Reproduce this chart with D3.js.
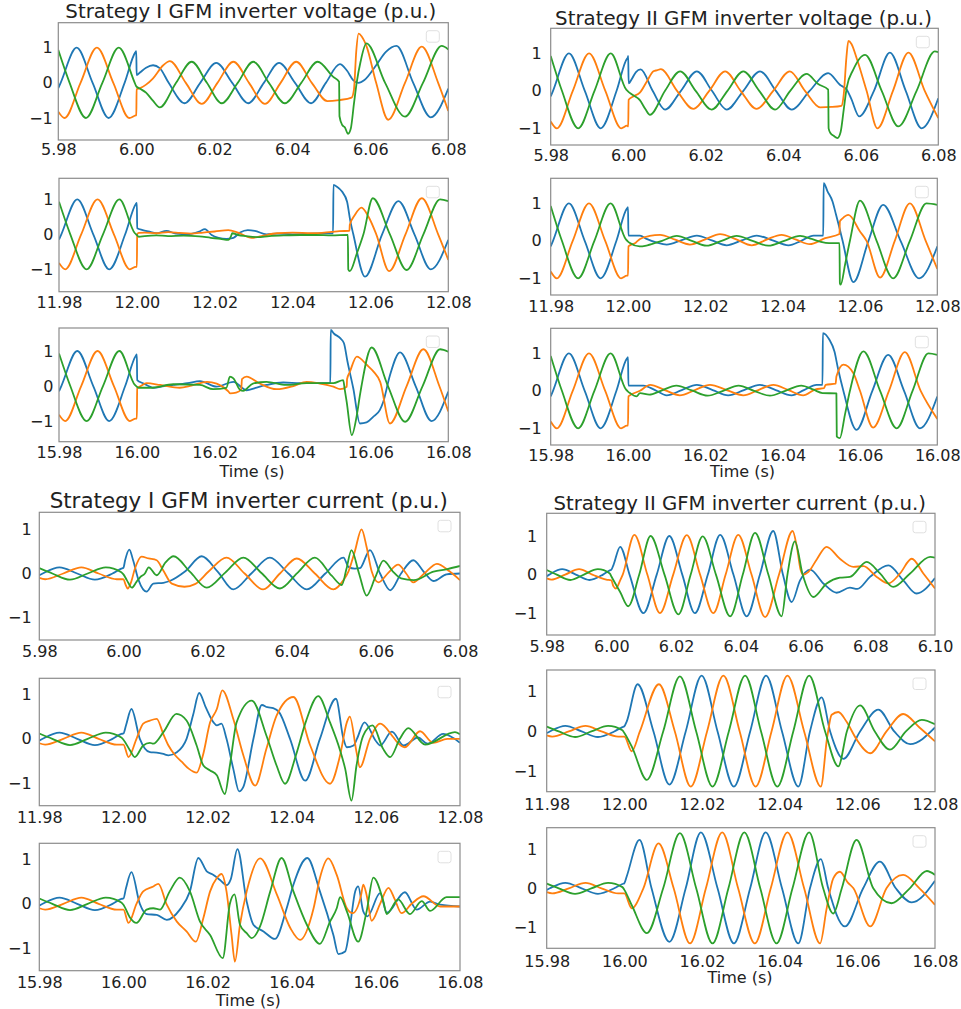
<!DOCTYPE html>
<html><head><meta charset="utf-8">
<script src="https://cdn.jsdelivr.net/npm/d3@7"></script>
<style>body{margin:0;background:#fff}svg text{font-family:"DejaVu Sans",sans-serif}</style>
</head><body><svg id="c" width="961" height="1009"></svg>
<script>
// ---------- tick labels ----------
const tickMs = [-20,0,20,40,60,80];
const tickMsLong = [-20,0,20,40,60,80,100];
const labels6 = ["5.98","6.00","6.02","6.04","6.06","6.08"];
const labels6long = ["5.98","6.00","6.02","6.04","6.06","6.08","6.10"];
const labels12 = ["11.98","12.00","12.02","12.04","12.06","12.08"];
const labels16 = ["15.98","16.00","16.02","16.04","16.06","16.08"];
const yTicks = [-1,0,1];
const titles = ["Strategy I GFM inverter voltage (p.u.)","Strategy II GFM inverter voltage (p.u.)",
                "Strategy I GFM inverter current (p.u.)","Strategy II GFM inverter current (p.u.)"];
const xLabel = "Time (s)";
// time in ms relative to the event (6.00 / 12.00 / 16.00 s), values in p.u.

// ---------- pre-event voltage (shared) ----------
const preV_blue = [[-20,-0.15],[-19.4,0],[-15.3,1.0],[-11.2,0],[-7.1,-1.0],[-3.0,0],[-0.3,0.86]];
const preV_orange = [[-20,-0.82],[-18.4,-1.0],[-14.3,0],[-10.1,1.0],[-5.9,0],[-1.8,-1.0],[-0.3,-0.93]];
const preV_green = [[-20,0.93],[-17.1,0],[-12.9,-1.0],[-8.7,0],[-4.5,1.0],[-0.5,0.03]];
// ---------- pre-event current (shared) ----------
const preI_blue = [[-20,-0.04],[-19.2,0],[-15.2,0.14],[-11,0],[-6.8,-0.14],[-2.6,0],[-0.5,0.11]];
const preI_orange = [[-20,-0.1],[-18.6,-0.13],[-14.3,0],[-10,0.14],[-5.9,0],[-1.6,-0.13]];
const preI_green = [[-20,0.12],[-16.9,0],[-12.7,-0.14],[-8.5,0],[-4.2,0.14],[-0.5,0.03]];

// ---------- Strategy I voltage, 6.00 ----------
const A_blue = [[0,0.9],[0.08,0.22],[1,0.3],[2.5,0.43],[4.3,0.5],[6,0.42],[8.3,0],[12.4,-0.58],[16.4,0],[20.5,0.57],[24.6,0],[28.7,-0.58],[32.7,0],[36.6,0.57],[40.7,0],[44.8,-0.58],[48.6,0],[52.2,0.53],[54,0.35],[55.6,0.08],[57,0],[58.5,0.08],[61.5,0.5],[64,0.88],[66.7,1.05],[71,0],[75.5,-0.98],[80,-0.16]];
const A_orange = [[0,-0.92],[0.08,-0.18],[1,-0.15],[2.5,-0.05],[4.3,0.13],[6.9,0.5],[8.6,0.62],[12.7,0],[16.8,-0.6],[20.8,0],[24.9,0.6],[28.9,0],[33,-0.6],[37,0],[41,0.6],[45,0],[49,-0.52],[52,-0.49],[55.2,-0.42],[55.8,-0.2],[56.4,0.9],[57,1.4],[57.8,1.32],[59,1.05],[61.5,0],[64.6,-1.05],[68.9,0],[73.2,1.03],[77.4,0],[80,-0.8]];
const A_green = [[0,-0.1],[1,-0.17],[2.5,-0.28],[4.2,-0.5],[6,-0.7],[10.2,0],[14.2,0.6],[18.1,0],[21.9,-0.58],[26,0],[30,0.6],[34,0],[38.1,-0.58],[42.3,0],[46.5,0.6],[50.5,0.17],[52,0.03],[52.1,-0.95],[52.8,-1.2],[53.5,-1.27],[54.3,-1.45],[55,-1.3],[55.8,-0.6],[56.5,0],[57.5,0.6],[59,1.12],[63.8,0],[68.9,-0.96],[73.5,0],[78.3,1.05],[80,0.95]];
// ---------- Strategy II voltage, 6.00 ----------
const B_blue = [[-0.1,0.88],[0,0.93],[0.1,0.2],[1,0.33],[2,0.5],[3.2,0.57],[6.3,0],[9.5,-0.5],[13.6,0],[17.7,0.52],[21.6,0],[25.4,-0.5],[29.7,0],[34,0.52],[38.1,0],[42.2,-0.5],[46.8,0],[51.6,0.47],[54.6,0.16],[56.4,0.03],[57.5,-0.2],[59.6,-0.68],[63.4,0],[67.5,1.02],[71.6,0],[75.7,-1.0],[80,-0.2]];
const B_orange = [[0,-0.95],[0.1,-0.24],[1.3,-0.15],[3,-0.05],[4.8,0.25],[6.5,0.52],[7.5,0.55],[8.4,0.58],[12.6,0],[16.8,-0.48],[20.9,0],[25,0.52],[29,0],[33.1,-0.48],[37.4,0],[41.7,0.52],[45.6,0],[49.5,-0.44],[52.5,-0.43],[55,-0.4],[55.6,-0.1],[56.3,0.9],[56.8,1.33],[57.6,1.25],[59,0.85],[61.5,0],[64.3,-1.0],[68.3,0],[72.3,1.02],[76.5,0],[80,-0.73]];
const B_green = [[0,-0.02],[1,-0.1],[3,-0.25],[4.5,-0.5],[5.6,-0.64],[9.5,0],[13.4,0.52],[17.4,0],[21.5,-0.5],[25.6,0],[29.7,0.52],[33.8,0],[37.9,-0.5],[41.8,0],[46,0.45],[49,0.18],[51.6,0.03],[51.7,-1.0],[52.2,-1.13],[53,-1.2],[54,-1.26],[54.8,-1.1],[55.6,-0.5],[56.4,0.1],[58,0.55],[61.1,0.96],[65.4,0],[69.7,-0.95],[74.4,0],[79.1,1.05],[80,1.03]];
// ---------- Strategy I voltage, 12.00 ----------
const C_blue = [[0,0.9],[0.08,0.17],[1.5,0.12],[3,0.08],[5,0.03],[7.6,0.1],[10,0.02],[13,0.0],[16,0.08],[17.5,0.15],[19.2,-0.02],[21,-0.1],[23,-0.13],[24.8,-0.1],[26.5,0.05],[28.5,0.12],[30.3,0.1],[33.3,0.0],[36,0.02],[40,0.0],[45,0.02],[50.4,0.03],[50.5,1.41],[51.4,1.36],[52.7,1.22],[54,0.93],[54.8,0.4],[55.6,0],[58.6,-1.21],[63,0],[67.2,0.95],[71.3,0],[75.5,-1.0],[80,-0.16]];
const C_orange = [[0,-0.93],[0.08,0.0],[0.5,0.04],[2,0.05],[5,0.03],[8,0.06],[11,0.04],[14,0.02],[17,0.05],[20,0.08],[23.5,0.12],[26,0.05],[29.5,-0.1],[32,-0.05],[36,0.03],[40,0.05],[45,0.03],[50,0.07],[52,0.09],[54.6,0.1],[54.7,0.27],[56,0.55],[57.7,0.76],[59.5,0.5],[61.5,0],[64.8,-1.05],[69,0],[73.2,1.03],[77.4,0],[80,-0.73]];
const C_green = [[0,-0.02],[0.5,-0.07],[2,-0.05],[5,-0.03],[8,-0.05],[12,-0.04],[16,-0.06],[19,-0.1],[21.5,-0.13],[23.5,-0.16],[24.2,-0.05],[24.5,0.03],[26,-0.02],[28,-0.05],[31,-0.08],[34,-0.05],[38,-0.03],[42,-0.02],[46,-0.02],[50,-0.03],[54.2,-0.02],[54.3,-1.0],[54.7,-1.05],[56.5,-0.55],[58.2,0],[60.6,1.03],[65,0],[69.3,-1.02],[73.6,0],[77.9,1.0],[80,0.95]];
// ---------- Strategy II voltage, 12.00 ----------
const D_blue = [[-0.1,0.88],[0,0.9],[0.1,0.14],[3.1,0.14],[4.8,0.05],[7.5,-0.05],[10,-0.1],[13.9,0.02],[17.8,0.14],[21.7,0.01],[25.5,-0.12],[29.4,0.01],[33.3,0.14],[37.4,0.01],[41.5,-0.12],[44.8,0.0],[48,0.14],[50.5,0.14],[50.6,1.54],[51.6,1.32],[52.9,1.05],[53.8,0.7],[54.7,0.34],[55.5,0],[58.3,-1.1],[62.2,0],[66,0.96],[70.5,0],[75.3,-1.0],[80,-0.15]];
const D_orange = [[0,-0.93],[0.1,-0.15],[2,-0.05],[3.1,0.05],[5.6,0.13],[8.3,0.16],[12.2,0.03],[16,-0.1],[20,0.04],[23.8,0.18],[28,0.04],[32,-0.12],[36,0.04],[39.7,0.16],[43.5,0.03],[47,-0.09],[51,0.07],[54.7,0.18],[54.8,0.52],[55.5,0.6],[57,0.69],[60,0.25],[61.7,0],[65.2,-0.98],[69,0],[72.9,1.0],[77,0],[80,-0.75]];
const D_green = [[0,-0.02],[0.5,-0.06],[3,-0.15],[5,-0.12],[8.8,0],[12.6,0.13],[16.5,0],[20.3,-0.13],[24.2,0],[28.1,0.13],[32.2,0],[36.3,-0.13],[40.4,0],[44.5,0.13],[47.5,0.05],[49.7,-0.02],[52,-0.06],[54.7,-0.06],[54.8,-1.13],[55,-1.17],[56.2,-0.6],[57.4,0],[60,1.07],[64.3,0],[68.6,-1.0],[72.9,0],[77.2,1.0],[80,0.96]];
// ---------- Strategy I voltage, 16.00 ----------
const E_blue = [[0,0.9],[0.08,0.17],[1.6,0.08],[4.3,-0.05],[7,0.0],[9.4,0.03],[13,0.08],[16.2,0.14],[20.5,-0.02],[24.8,0.12],[28.2,-0.12],[30.5,-0.05],[33.3,0.03],[37.6,0.1],[42,0.08],[46,0.08],[49.7,0.08],[49.8,1.6],[50.6,1.5],[52.3,1.36],[53.2,1.22],[54.1,0.7],[55.6,-0.07],[57.3,-1.07],[59,-1.04],[60.7,-0.88],[62.4,-0.69],[63.3,-0.45],[65,0.3],[67.6,0.96],[71.6,0],[75.7,-1.0],[80,-0.16]];
const E_orange = [[0,-0.93],[0.08,-0.07],[1,0.0],[2.5,0.08],[6,0.03],[11,-0.05],[14,0.01],[18,0.12],[20.5,0.07],[23.5,-0.15],[24,-0.21],[25.5,-0.19],[26.8,-0.1],[27,0.2],[28.2,0.27],[31.4,0.08],[35.9,-0.09],[40.2,0.0],[43.6,0.12],[47,0.07],[50.5,-0.02],[52.2,-0.09],[53.9,-0.02],[54,0.2],[54.7,0.4],[56.5,0.84],[59.1,0.6],[60.8,0.41],[62.5,0.12],[65,-1.07],[69.3,0],[73.6,1.05],[77.7,0],[80,-0.73]];
const E_green = [[0,-0.02],[0.5,-0.05],[3.5,-0.05],[9.4,0.05],[16.2,0.03],[19.6,-0.09],[23,-0.05],[23.9,0.27],[24.8,0.22],[26.5,-0.11],[27.3,-0.14],[29.8,0.07],[33.3,0.12],[38.4,0.03],[43.6,0.08],[50.5,0.08],[53,0.17],[53.4,-0.1],[53.9,-0.45],[55.2,-1.4],[56.5,-0.83],[57.3,-0.26],[57.7,0],[60.3,1.1],[64.5,0],[68.9,-1.02],[73.4,0],[77.9,1.05],[80,0.98]];
// ---------- Strategy II voltage, 16.00 ----------
const F_blue = [[-0.1,0.88],[0,0.9],[0.1,0.14],[4,0.14],[7,0.02],[10,-0.12],[13.9,0.02],[17.8,0.16],[21.9,0.02],[25.9,-0.12],[30,0.02],[34.1,0.16],[38.2,0.02],[42.3,-0.12],[45.5,0.02],[48.8,0.16],[50.3,0.16],[50.4,1.54],[52.1,1.36],[53.4,1.05],[54.3,0.6],[55.7,0],[59.1,-1.04],[63.2,0],[67.3,0.96],[71.4,0],[75.5,-1.0],[80,-0.15]];
const F_orange = [[0,-0.93],[0.1,-0.15],[3.1,0.0],[5.7,0.16],[9.5,0.02],[13.4,-0.12],[17.3,0.02],[21.2,0.16],[25.5,0.02],[29.8,-0.12],[33.7,0.02],[37.6,0.16],[41.5,0.02],[45.3,-0.12],[48.5,0.04],[50.7,0.07],[51.1,0.16],[53.7,0.19],[53.9,0.38],[55.7,0.7],[58.3,0.47],[60,0],[63.4,-0.98],[67.5,0],[71.6,1.03],[75.7,0],[80,-0.75]];
const F_green = [[0,-0.02],[0.5,-0.06],[2.2,-0.15],[3.1,-0.06],[5.5,-0.1],[8.5,0],[12.5,0.14],[16.5,0.01],[20.6,-0.13],[24.6,0],[28.6,0.14],[32.6,0],[36.7,-0.13],[40.7,0],[44.8,0.14],[48,0.03],[50.3,-0.06],[53.9,-0.07],[54,-1.22],[54.8,-1.26],[56.1,-0.64],[57.4,0],[60.9,1.05],[65.2,0],[69.5,-1.0],[73.6,0],[77.7,1.0],[80,0.96]];

// ---------- Strategy I current, 6.00 ----------
const G_blue = [[0,0.13],[0.4,0.3],[1.4,0.54],[2.3,0.3],[3.6,-0.15],[5.5,-0.41],[7.1,-0.23],[9.5,-0.21],[11,-0.17],[14.7,0.05],[18.6,0.39],[22.5,0.03],[26.1,-0.36],[30.4,0],[34.8,0.36],[39.2,0],[43.6,-0.36],[48,0],[52.3,0.36],[53.5,0.15],[55,0.11],[56.2,0.12],[58.6,0.53],[61,0],[63.4,-0.38],[66,0],[68.9,0.3],[71.3,0.05],[73.7,-0.17],[76.8,-0.02],[80,0.0]];
const G_orange = [[0,-0.13],[0.5,-0.25],[1,-0.34],[1.8,-0.2],[2.7,0.1],[4.3,0.38],[6,0.34],[7.9,0.3],[9.4,0.08],[11.5,-0.23],[14.5,-0.3],[17,-0.24],[20.3,0.05],[24.5,0.36],[28.8,0],[33.2,-0.36],[37.2,0],[41.2,0.34],[45.5,0],[49.9,-0.36],[52.3,-0.15],[53.5,0.05],[55,0.5],[56.6,1.0],[57.8,0.6],[59,0.05],[60.6,-0.2],[63,0.02],[65.3,0.2],[67.2,0.0],[68.9,-0.2],[71.5,0.0],[74.5,0.22],[77.5,0.05],[80,-0.15]];
const G_green = [[0,-0.02],[0.8,-0.15],[2,-0.32],[3.1,-0.19],[4,-0.08],[5.1,0.0],[6,0.14],[7.9,-0.04],[10,0.25],[11.9,0.39],[15.9,0.03],[19.8,-0.32],[24.2,0.02],[28.5,0.36],[32.8,0.01],[37.2,-0.34],[41.3,0.01],[45.5,0.36],[49.5,-0.05],[51.9,-0.26],[53,0.1],[54.2,0.53],[56,0],[57.8,-0.5],[59.8,-0.1],[61.8,0.29],[64,0.05],[66,-0.11],[69,-0.15],[73.7,0.04],[77,0.1],[80,0.17]];
// ---------- Strategy II current, 6.00 (to 6.10) ----------
const H_blue = [[0,0.13],[0.6,0.24],[2.7,0.72],[5.6,0],[9.9,-1.0],[14,0],[17.9,1.0],[21.9,0],[25.8,-1.0],[29.8,0],[33.6,1.03],[37.7,0],[41.8,-1.08],[45.9,0],[50,1.13],[53,0],[55.7,-0.71],[58.3,-0.15],[61.4,0.13],[65.5,-0.23],[69.6,-0.47],[73.7,-0.34],[76,-0.37],[79.9,-0.06],[85.6,0.24],[90.2,-0.15],[94.3,-0.49],[100,-0.09]];
const H_orange = [[0,-0.15],[0.6,-0.3],[1.4,-0.36],[2.7,-0.15],[3.5,0],[7.1,1.03],[11.1,0],[15,-1.0],[19.1,0],[23.3,1.02],[27.4,0],[31.5,-1.0],[35.3,0],[39.2,1.03],[43.3,0],[47.5,-1.1],[51.8,0],[56,1.13],[57.3,0.72],[58.5,0.11],[59.3,0],[60.9,0.07],[63.5,0.4],[66.5,0.72],[70.6,0.41],[74.8,0.2],[77.9,0.22],[82,-0.06],[85.6,-0.23],[89.2,0.03],[92.8,0.41],[96.4,0.03],[100,-0.36]];
const H_green = [[0,-0.05],[2.7,-0.45],[5.2,-0.82],[8.6,0],[12.1,1.0],[16.4,0],[20.7,-1.03],[24.5,0],[28.2,0.99],[32.3,0],[36.7,-1.08],[40.6,0],[44.4,1.08],[48.5,0],[52.6,-1.08],[54.4,0],[56.7,0.86],[59.1,0],[62.4,-0.58],[66.5,-0.23],[70.6,-0.08],[73.7,-0.06],[78.9,0.33],[83,0.03],[87.1,-0.32],[92.3,0.03],[98.5,0.46],[100,0.44]];
// ---------- Strategy I current, 12.00 ----------
const I_blue = [[0,0.12],[0.6,0.3],[1.9,0.67],[3.9,0],[6.3,-0.3],[7.9,-0.31],[9.5,-0.34],[10.7,-0.37],[12.7,-0.3],[15,0],[16.6,0.55],[18,1.03],[19.6,0.7],[21.4,0.37],[22.2,0.3],[23.3,0.34],[24.5,0.0],[26.1,-0.67],[27.5,-1.18],[28.5,-1.08],[30.9,0],[32.9,0.76],[34.2,0.71],[35.6,0.69],[37,0.6],[39.6,0],[43.2,-0.94],[46.7,0],[50.5,0.9],[52.3,0],[53.1,-0.19],[54.7,-0.15],[55.5,0],[57.3,0.37],[60,-0.05],[61,-0.15],[63.8,0.16],[66.6,-0.15],[70,0.03],[72.3,-0.11],[76,0.11],[80,-0.09]];
const I_orange = [[0,-0.13],[1.2,-0.41],[3.1,0],[4.7,0.34],[6.3,0.41],[7.9,0.45],[9.5,0.1],[10.7,-0.15],[12.3,-0.37],[13.9,-0.52],[15.5,-0.67],[17.4,-0.76],[18.9,-0.37],[20.6,0.37],[22.2,0.67],[23.5,1.09],[26.1,0.45],[28.5,-0.37],[31.3,-1.05],[34,-0.22],[36.4,0.52],[40.4,0.94],[44.4,-0.15],[49.1,-1.01],[51.5,-0.37],[53.1,0.37],[53.8,0.5],[55.4,-0.3],[56.2,-0.64],[58.6,0],[61,0.34],[64.1,0.04],[65,-0.07],[66.9,-0.19],[70.5,0.17],[73.6,-0.09],[77,0],[80,0]];
const I_green = [[0,-0.02],[1.5,-0.25],[2.7,-0.41],[4.7,-0.15],[6.3,-0.09],[7.1,-0.11],[9.5,0.15],[12.6,0.56],[15,0.41],[17.4,-0.15],[19,-0.6],[20.6,-0.71],[22.2,-0.82],[24.1,-1.24],[25.3,-0.6],[26.9,0.37],[30.5,0.86],[34,0.07],[36.4,-0.6],[38.4,-1.01],[41,-0.37],[43.3,0.37],[46.3,0.96],[49.1,0.37],[51.5,-0.26],[52.7,-0.67],[54.2,-1.39],[55.4,-0.6],[57,0.07],[59.2,0.3],[61.7,-0.22],[63.4,-0.41],[65.7,0],[67.7,0.24],[71.7,-0.13],[78.8,0.15],[80,0.1]];
// ---------- Strategy II current, 12.00 ----------
const J_blue = [[0,0.13],[0.6,0.25],[3.4,1.19],[7.5,0],[11.6,-1.34],[15.8,0],[19.9,1.41],[24,0],[28.2,-1.39],[32.4,0],[36.5,1.41],[40.6,0],[44.8,-1.39],[47.8,0],[50.8,0.86],[53,0],[56.4,-0.69],[60.7,0],[65.4,0.55],[69.5,0],[73.6,-0.32],[80,0.1]];
const J_orange = [[0,-0.13],[1.9,-0.5],[4,0],[8.9,1.19],[13,0],[17.1,-1.39],[21.3,0],[25.5,1.41],[29.7,0],[33.8,-1.39],[37.9,0],[42,1.41],[46.3,0],[50.6,-1.39],[52.2,-0.17],[53.4,0.42],[55.1,0.49],[57.2,0.25],[59.8,-0.2],[63.3,-0.55],[67.5,0],[71.8,0.44],[76,0.1],[80,-0.25]];
const J_green = [[0,-0.04],[2,-0.4],[5.8,-1.22],[10,0],[14.3,1.39],[18.5,0],[22.7,-1.39],[26.9,0],[31.1,1.41],[35.2,0],[39.4,-1.39],[43.5,0],[47.6,1.41],[51.7,0],[55.1,-0.88],[57.3,0],[60.7,0.66],[64.5,0],[68.4,-0.46],[72.5,0],[76.6,0.29],[80,0.18]];
// ---------- Strategy I current, 16.00 ----------
const K_blue = [[0,0.12],[0.6,0.35],[1.9,0.71],[3.9,0],[5.5,-0.23],[7.9,-0.25],[10.3,-0.36],[13.4,-0.13],[15.8,0.28],[17.8,1.03],[19.8,0.73],[21.4,0.65],[22.9,0.54],[24.5,0.42],[25.5,0.55],[27.1,1.23],[29.3,0.05],[30.9,-0.47],[33.3,-0.62],[36,-0.79],[38.8,-0.1],[40.4,0.43],[43.7,1.03],[46.7,0.28],[49.9,-0.7],[51.1,-1.13],[52.7,-1.07],[53.9,-0.47],[55.1,0.28],[55.8,0.39],[57,-0.17],[58,-0.28],[61,0.24],[62.6,-0.2],[66.9,0.26],[69.7,-0.13],[72.9,0.05],[75.3,-0.02],[80,-0.06]];
const K_orange = [[0,-0.13],[1.2,-0.43],[3.1,0],[4.7,0.28],[7.1,0.39],[8.3,0.45],[10.3,-0.02],[12.7,-0.4],[15,-0.62],[17.2,-0.85],[19,-0.32],[20.6,0.28],[22.2,0.58],[23.3,0.67],[24.5,0.28],[25.7,-0.7],[26.5,-1.3],[27.7,-0.47],[29.3,0.28],[32.5,1.02],[36.5,0.2],[39.7,-0.55],[42,-0.81],[45.2,-0.1],[46.7,0.58],[48.7,1.02],[50.7,0.65],[53.1,-0.1],[54.5,-0.21],[56.5,0.2],[57,0.43],[57.8,0.2],[59,-0.38],[61,0],[63,0.36],[64.5,0.1],[66.1,-0.21],[68.5,0],[71.3,0.17],[75.3,-0.06],[80,-0.06]];
const K_green = [[0,-0.02],[1.5,-0.3],[3.1,-0.43],[5.5,-0.13],[7.1,-0.1],[8.7,-0.13],[11,0.28],[13.4,0.59],[15.8,0.28],[18.2,-0.4],[20.6,-0.7],[23.6,-1.22],[25.3,0.0],[26.4,0.21],[27.7,-0.47],[29.3,-0.66],[30.5,-0.77],[32.5,-0.5],[34.9,0.28],[37.6,1.03],[40.4,0.28],[43.6,-0.47],[46.7,-0.9],[49.1,-0.4],[50.7,-0.1],[51.5,0.15],[53.1,-0.17],[55.8,-0.85],[57.8,-0.17],[59.4,0.59],[61.8,0.05],[62.6,-0.23],[65.3,0.1],[68.1,-0.23],[70.9,0.06],[72.9,-0.16],[76.8,0.15],[80,0.15]];
// ---------- Strategy II current, 16.00 ----------
const L_blue = [[0,0.13],[0.6,0.3],[3.9,1.23],[7,0],[11.6,-1.36],[15.8,0],[19.7,1.42],[24,0],[28.2,-1.4],[32.4,0],[36.4,1.42],[40.6,0],[44.8,-1.4],[47.8,0],[50.6,0.74],[52.5,0],[56.8,-0.97],[61.5,0],[65.8,0.68],[69.9,0],[74,-0.36],[80,0.19]];
const L_orange = [[0,-0.13],[1.9,-0.51],[4.9,0],[8.8,1.14],[12.7,0],[16.9,-1.4],[21,0],[25.2,1.42],[29.3,0],[33.6,-1.4],[37.7,0],[42,1.42],[46.3,0],[50.4,-1.4],[52.1,-0.51],[53.8,0.25],[55.5,0.42],[57.5,0.15],[59,0],[63.3,-0.97],[67.5,0],[71.8,0.34],[76,0],[80,-0.42]];
const L_green = [[0,-0.04],[2,-0.45],[5.8,-1.14],[10,0],[14.3,1.4],[18.5,0],[22.7,-1.4],[26.8,0],[30.9,1.42],[35,0],[39.2,-1.4],[43.3,0],[47.6,1.42],[51.2,0],[53.8,-0.64],[56,0],[59.8,1.23],[64.1,0],[68.8,-0.38],[73.5,0],[77.9,0.44],[80,0.34]];

// ---------- layout ----------
const colors = ["#1f77b4","#ff7f0e","#2ca02c"];
const V = (b,o,g)=>[preV_blue.concat(b), preV_orange.concat(o), preV_green.concat(g)];
const C3 = (b,o,g)=>[preI_blue.concat(b), preI_orange.concat(o), preI_green.concat(g)];
const panels = [
 {id:"A", box:[58.3,448.3,22.7,140], ylim:[-1.626,1.711], xdom:[-20,80], xt:tickMs, xl:labels6, series:V(A_blue,A_orange,A_green), xpad:3.8, ypad:5.5, title:{t:titles[0],x:250.8,y:18.3,s:19.8}},
 {id:"B", box:[550.7,938.3,28.3,145], ylim:[-1.445,1.667], xdom:[-20,80], xt:tickMs, xl:labels6, series:V(B_blue,B_orange,B_green), xpad:4.5, ypad:9, title:{t:titles[1],x:743.5,y:25,s:19.8}},
 {id:"C", box:[59,448.3,178.3,291.7], ylim:[-1.64,1.6], xdom:[-20,80], xt:tickMs, xl:labels12, series:V(C_blue,C_orange,C_green), xpad:4.6, ypad:5.5},
 {id:"D", box:[550.7,937.3,178.3,295], ylim:[-1.445,1.667], xdom:[-20,80], xt:tickMs, xl:labels12, series:V(D_blue,D_orange,D_green), xpad:5.3, ypad:9},
 {id:"E", box:[59,448.3,328,441.7], ylim:[-1.59,1.657], xdom:[-20,80], xt:tickMs, xl:labels16, series:V(E_blue,E_orange,E_green), xpad:4.6, ypad:5.5, xlab:{x:252,y:477}},
 {id:"F", box:[550.7,937.3,328.3,445], ylim:[-1.445,1.667], xdom:[-20,80], xt:tickMs, xl:labels16, series:V(F_blue,F_orange,F_green), xpad:4.3, ypad:9, xlab:{x:742.5,y:477}},
 {id:"G", box:[39.3,460,512.3,640], ylim:[-1.505,1.385], xdom:[-20,80], xt:tickMs, xl:labels6, series:C3(G_blue,G_orange,G_green), xpad:6, ypad:7.6, title:{t:titles[2],x:248.8,y:508.3,s:21.4}},
 {id:"H", box:[546.7,935,513.3,635], ylim:[-1.565,1.588], xdom:[-20,100], xt:tickMsLong, xl:labels6long, series:C3(H_blue,H_orange,H_green), xpad:5.3, ypad:9.4, title:{t:titles[3],x:739.7,y:510,s:19.7}},
 {id:"I", box:[39.3,460,678.3,805.7], ylim:[-1.503,1.36], xdom:[-20,80], xt:tickMs, xl:labels12, series:C3(I_blue,I_orange,I_green), xpad:6.2, ypad:7.6},
 {id:"J", box:[546.7,935,670,791.7], ylim:[-1.52,1.55], xdom:[-20,80], xt:tickMs, xl:labels12, series:C3(J_blue,J_orange,J_green), xpad:7, ypad:9.4},
 {id:"K", box:[39.3,460,843.3,970.7], ylim:[-1.503,1.36], xdom:[-20,80], xt:tickMs, xl:labels16, series:C3(K_blue,K_orange,K_green), xpad:6.2, ypad:7.6, xlab:{x:248.3,y:1006}},
 {id:"L", box:[546.7,935,827.7,948.3], ylim:[-1.525,1.54], xdom:[-20,80], xt:tickMs, xl:labels16, series:C3(L_blue,L_orange,L_green), xpad:7, ypad:9.4, xlab:{x:740,y:983}}
];

const svg = d3.select("#c");
const defs = svg.append("defs");
const fmtY = d => d < 0 ? "\u2212" + Math.abs(d) : String(d);

panels.forEach(p => {
  const [x0,x1,y0,y1] = p.box;
  const x = d3.scaleLinear().domain(p.xdom).range([x0,x1]);
  const y = d3.scaleLinear().domain(p.ylim).range([y1,y0]);
  defs.append("clipPath").attr("id","clip"+p.id).append("rect")
    .attr("x",x0).attr("y",y0).attr("width",x1-x0).attr("height",y1-y0);
  const g = svg.append("g");
  const line = d3.line().x(d=>x(d[0])).y(d=>y(d[1])).curve(d3.curveMonotoneX);
  const lg = g.append("g").attr("clip-path","url(#clip"+p.id+")");
  p.series.forEach((s,i) => {
    lg.append("path").attr("d", line(s)).attr("fill","none")
      .attr("stroke", colors[i]).attr("stroke-width",1.8).attr("stroke-linejoin","round");
  });
  // frame
  g.append("rect").attr("x",x0).attr("y",y0).attr("width",x1-x0).attr("height",y1-y0)
    .attr("fill","none").attr("stroke","#8c8c8c").attr("stroke-width",1.2);
  // empty legend box
  g.append("rect").attr("x",x1-22).attr("y",y0+8).attr("width",13).attr("height",11.5)
    .attr("rx",2.5).attr("fill","#fff").attr("stroke","#e0e0e0").attr("stroke-width",1);
  // axes
  const xa = d3.axisBottom(x).tickValues(p.xt).tickFormat((d,i)=>p.xl[i]).tickSize(0).tickPadding(p.xpad);
  const gx = g.append("g").attr("transform",`translate(0,${y1})`).call(xa);
  const ya = d3.axisLeft(y).tickValues(yTicks).tickFormat(fmtY).tickSize(0).tickPadding(p.ypad);
  const gy = g.append("g").attr("transform",`translate(${x0},0)`).call(ya);
  [gx,gy].forEach(a => {
    a.select(".domain").remove();
    a.selectAll("text").attr("font-size",16).attr("fill","#222").attr("font-family","DejaVu Sans");
  });
  if (p.title) {
    g.append("text").attr("x",p.title.x).attr("y",p.title.y).attr("text-anchor","middle")
      .attr("font-size",p.title.s).attr("fill","#222").text(p.title.t);
  }
  if (p.xlab) {
    g.append("text").attr("x",p.xlab.x).attr("y",p.xlab.y).attr("text-anchor","middle")
      .attr("font-size",16).attr("fill","#222").text(xLabel);
  }
});
</script></body></html>
